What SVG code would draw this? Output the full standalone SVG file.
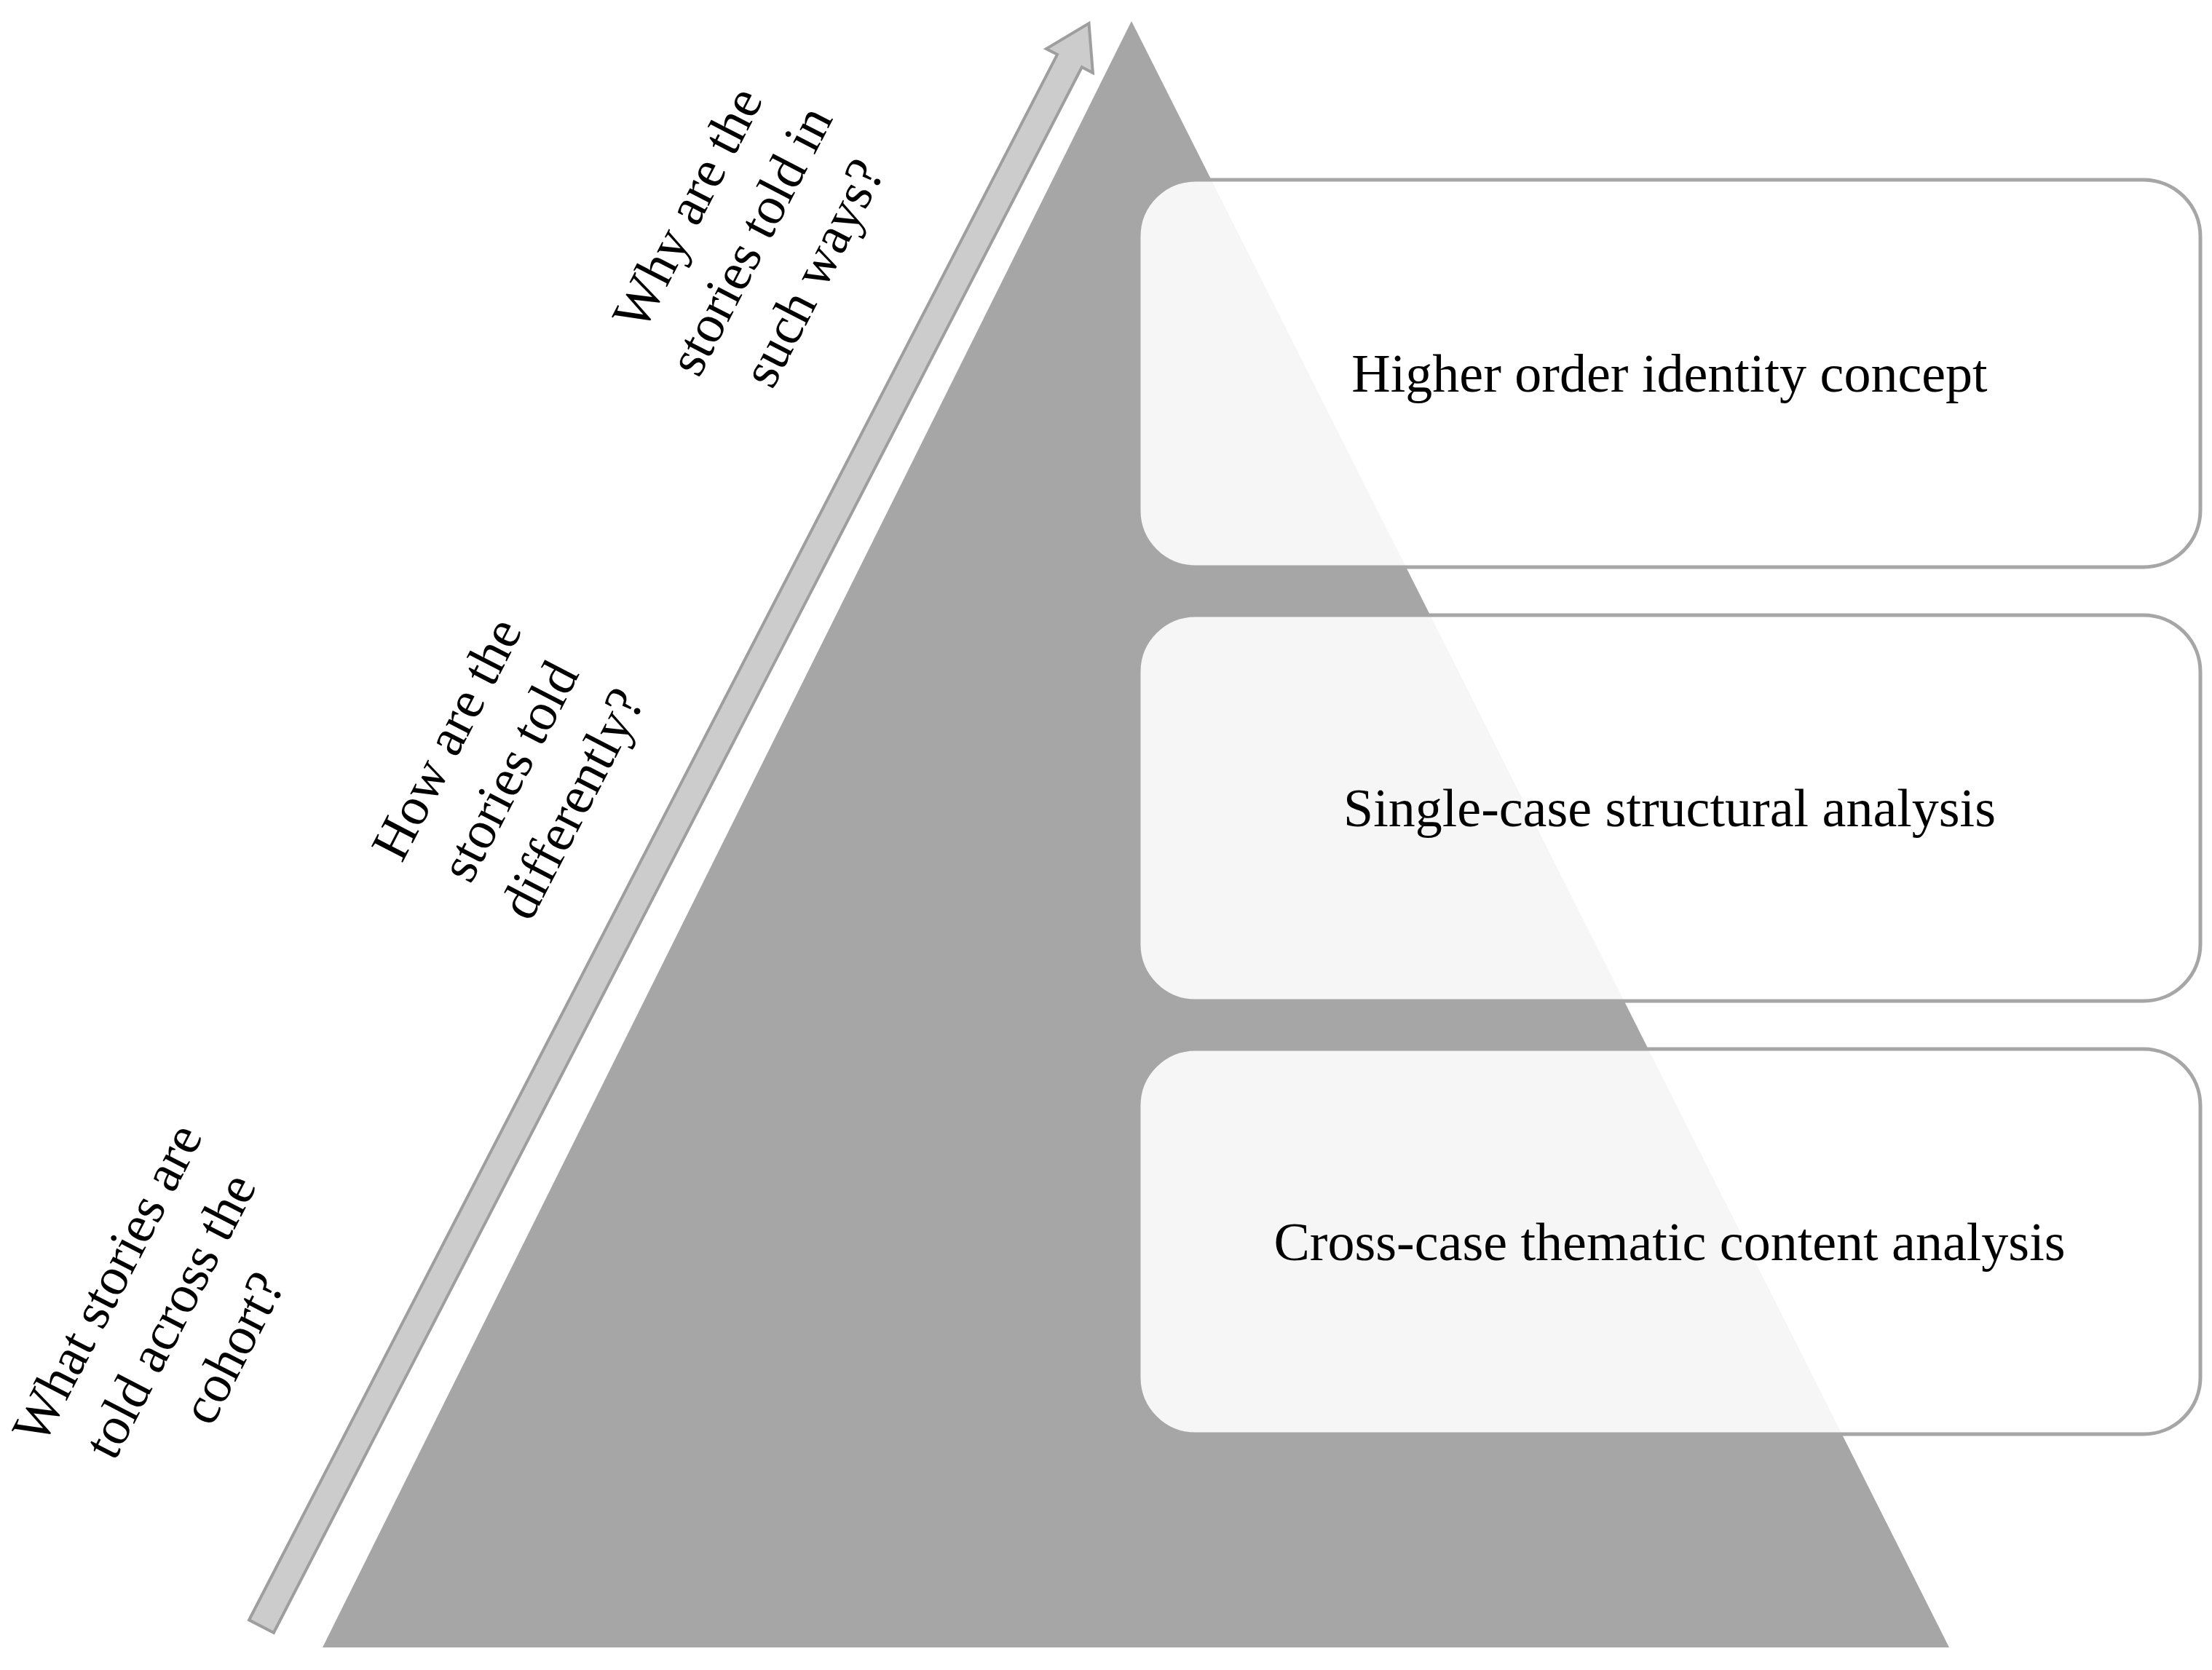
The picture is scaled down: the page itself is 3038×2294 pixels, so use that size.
<svg xmlns="http://www.w3.org/2000/svg" width="3038" height="2294" viewBox="0 0 3038 2294">
<style>
.box{fill:#ffffff;fill-opacity:0.9;stroke:#a6a6a6;stroke-width:5}
.t{font-family:"Liberation Serif",serif;font-size:74px;fill:#000;text-anchor:middle}
</style>
<rect width="3038" height="2294" fill="#fff"/>
<g id="pyramid"><polygon points="1554,29 443,2263 2677,2263" fill="#a6a6a6"/></g>
<g id="connectors">
<g transform="translate(359,2234) rotate(-62.7)">
<polygon points="0,-19 2420,-19 2420,-36 2478,0 2420,36 2420,19 0,19" fill="#cccccc" stroke="#9e9e9e" stroke-width="4"/>
</g>
</g>
<g id="box1"><rect class="box" x="1564" y="247" width="1458" height="532" rx="78"/><text class="t" x="2293" y="538">Higher order identity concept</text></g>
<g id="box2"><rect class="box" x="1564" y="845" width="1458" height="530" rx="78"/><text class="t" x="2293" y="1135">Single-case structural analysis</text></g>
<g id="box3"><rect class="box" x="1564" y="1441" width="1458" height="529" rx="78"/><text class="t" x="2293" y="1731">Cross-case thematic content analysis</text></g>
<g id="label1" transform="translate(1030,330) rotate(-62.7)"><text class="t" x="0" y="-72">Why are the</text><text class="t" x="0" y="25">stories told in</text><text class="t" x="0" y="122">such ways?</text></g>
<g id="label2" transform="translate(699,1059) rotate(-62.7)"><text class="t" x="0" y="-72">How are the</text><text class="t" x="0" y="25">stories told</text><text class="t" x="0" y="122">differently?</text></g>
<g id="label3" transform="translate(233,1807) rotate(-62.7)"><text class="t" x="0" y="-72">What stories are</text><text class="t" x="0" y="25">told across the</text><text class="t" x="0" y="122">cohort?</text></g>
</svg>
